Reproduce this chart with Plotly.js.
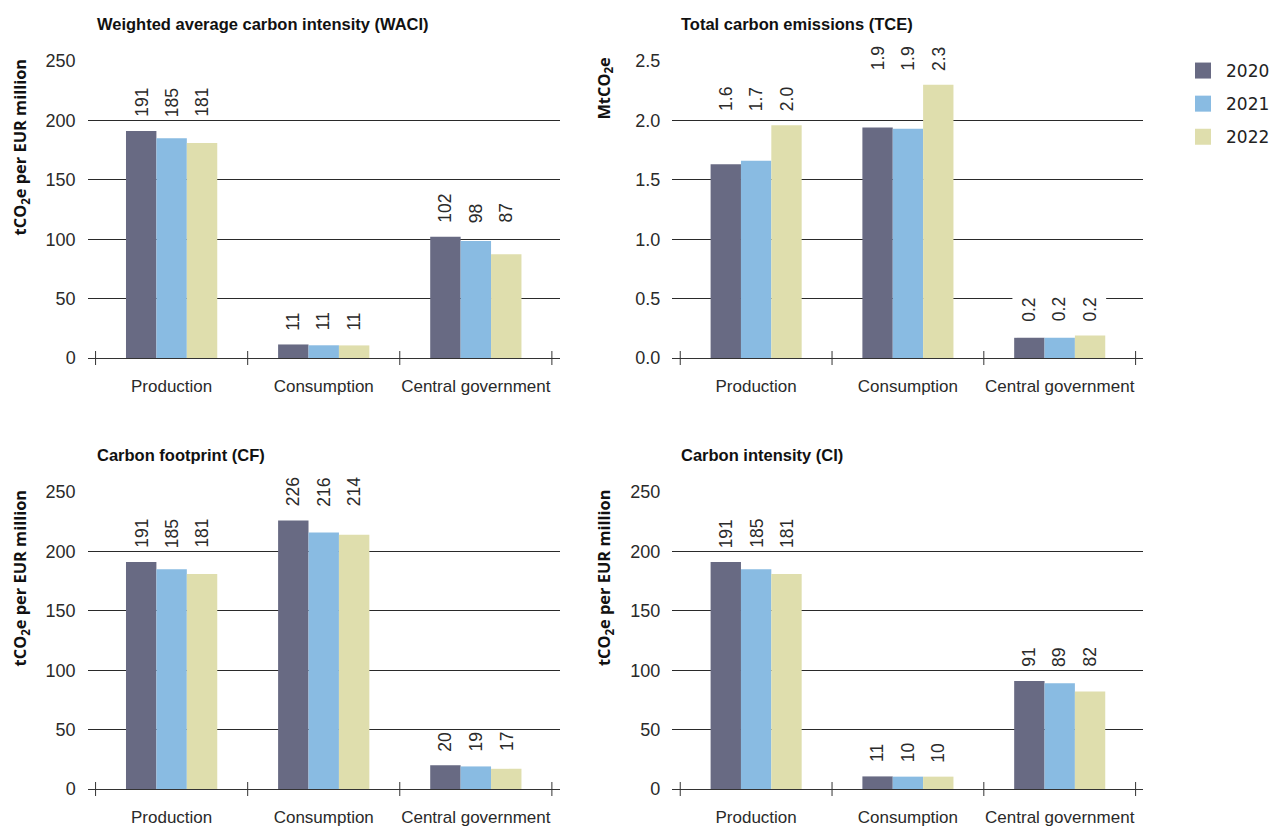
<!DOCTYPE html>
<html>
<head>
<meta charset="utf-8">
<script src="https://cdn.plot.ly/plotly-3.0.1.min.js"></script>
<style>
  html, body { margin: 0; padding: 0; background: #ffffff; }
  #chart { width: 1275px; height: 826px; }
</style>
</head>
<body>
<div id="chart"></div>
<script>
// ---------------- data ----------------
const categories = ['Production', 'Consumption', 'Central government'];
const years = ['2020', '2021', '2022'];

const waci2020 = [191, 11.4, 102];
const waci2021 = [185, 10.7, 98.4];
const waci2022 = [181, 10.6, 87.4];

const tce2020 = [1.63, 1.94, 0.17];
const tce2021 = [1.66, 1.93, 0.17];
const tce2022 = [1.96, 2.30, 0.19];

const cf2020 = [191, 226, 20];
const cf2021 = [185, 216, 19];
const cf2022 = [181, 214, 17];

const ci2020 = [191, 10.6, 91];
const ci2021 = [185, 10.4, 89];
const ci2022 = [181, 10.4, 82];

const intensityTicks = [0, 50, 100, 150, 200, 250];
const tceTicks = [0, 0.5, 1.0, 1.5, 2.0, 2.5];

const panelTitles = ['Weighted average carbon intensity (WACI)', 'Total carbon emissions (TCE)',
                     'Carbon footprint (CF)', 'Carbon intensity (CI)'];
const axisTitles = ['tCO<sub>2</sub>e per EUR million', 'MtCO<sub>2</sub>e',
                    'tCO<sub>2</sub>e per EUR million', 'tCO<sub>2</sub>e per EUR million'];

// ---------------- styles ----------------
const colors = ['#686a83', '#89bbe2', '#dfdead'];
const NARROW = '"Liberation Sans", Arial, sans-serif';
const BOLDSANS = '"Open Sans", "Noto Sans", sans-serif';
const W = 1275, H = 826;
const px = v => v / W;
const py = v => 1 - v / H;
const narrowFont = (size, extra) => Object.assign({family: NARROW, size: size, color: '#2a2a2a'}, extra || {});

const panels = [
  {series: [waci2020, waci2021, waci2022], ticks: intensityTicks, fmt: d => d.toFixed(0),  tickfmt: 'd',   col: 0, row: 0},
  {series: [tce2020, tce2021, tce2022],    ticks: tceTicks,       fmt: d => d.toFixed(1),  tickfmt: '.1f', col: 1, row: 0},
  {series: [cf2020, cf2021, cf2022],       ticks: intensityTicks, fmt: d => d.toFixed(0),  tickfmt: 'd',   col: 0, row: 1},
  {series: [ci2020, ci2021, ci2022],       ticks: intensityTicks, fmt: d => d.toFixed(0),  tickfmt: 'd',   col: 1, row: 1}
];

// pixel geometry of plot areas
const colX = [[88, 562], [675, 1148]];
const rowY = [[60, 358], [491, 789]];   // top px, bottom (zero line) px
const plotH = 297;                        // px for the full tick span

const traces = [];
const annotations = [];
const shapes = [];
const layout = {
  width: W, height: H,
  margin: {l: 0, r: 0, t: 0, b: 0},
  paper_bgcolor: '#ffffff', plot_bgcolor: 'rgba(0,0,0,0)',
  barmode: 'group', bargap: 0.4, bargroupgap: 0,
  showlegend: true,
  legend: {
    x: px(1185), xanchor: 'left', y: py(53), yanchor: 'top',
    font: {family: '"DejaVu Sans", sans-serif', size: 17, color: '#222'},
    itemwidth: 36, tracegroupgap: 8, bgcolor: 'rgba(0,0,0,0)',
    itemclick: false, itemdoubleclick: false
  },
  annotations: annotations,
  shapes: shapes,
  font: {family: NARROW, color: '#222'}
};

panels.forEach((p, k) => {
  const n = k + 1;
  const xa = 'x' + (n === 1 ? '' : n);
  const ya = 'y' + (n === 1 ? '' : n);
  const xKey = 'xaxis' + (n === 1 ? '' : n);
  const yKey = 'yaxis' + (n === 1 ? '' : n);
  const [x0, x1] = colX[p.col];
  const [yTop, yBot] = rowY[p.row];
  const tickMax = p.ticks[p.ticks.length - 1];
  const rangeMax = tickMax * (yBot - yTop) / plotH;

  layout[xKey] = {
    type: 'category', domain: [px(x0), px(x1)], anchor: ya,
    range: [-0.552, 2.552], categoryorder: 'array', categoryarray: categories,
    showgrid: false, zeroline: false, showline: true, linecolor: '#333', linewidth: 1,
    ticks: '', tickangle: 0, ticklabelstandoff: 13, automargin: false, fixedrange: true,
    tickfont: narrowFont(17)
  };
  layout[yKey] = {
    domain: [py(yBot), py(yTop)], anchor: xa,
    range: [0, rangeMax], tickmode: 'array', tickvals: p.ticks, tickformat: p.tickfmt,
    showgrid: true, gridcolor: '#2a2a2a', gridwidth: 1, zeroline: false, showline: false,
    ticks: '', ticklabelstandoff: 11, automargin: false, fixedrange: true,
    tickfont: narrowFont(18)
  };

  p.series.forEach((vals, j) => {
    traces.push({
      type: 'bar', x: categories, y: vals, name: years[j],
      xaxis: xa, yaxis: ya, marker: {color: colors[j], line: {width: 0}},
      showlegend: false, hoverinfo: 'x+y+name'
    });
  });

  // value labels: rotated, aligned above the highest bar of each group
  categories.forEach((c, i) => {
    const groupMax = Math.max(...p.series.map(s => s[i]));
    p.series.forEach((vals, j) => {
      annotations.push({
        xref: xa, yref: ya, x: i + (j - 1) * 0.2, y: groupMax,
        xanchor: 'center', yanchor: 'bottom', yshift: 12,
        text: p.fmt(vals[i]), textangle: -90, showarrow: false,
        height: 30, bgcolor: '#ffffff', borderpad: 1,
        font: narrowFont(17.5)
      });
    });
  });

  // category boundary tick marks crossing the axis line
  [-0.5, 0.5, 1.5, 2.5].forEach(b => {
    shapes.push({
      type: 'line', xref: xa, yref: ya + ' domain', x0: b, x1: b,
      y0: -7 / (yBot - yTop), y1: 7 / (yBot - yTop),
      line: {color: '#333', width: 1}
    });
  });

  // panel title
  annotations.push({
    xref: 'paper', yref: 'paper', x: px(colX[p.col][0] + 7), y: py(rowY[p.row][0] - 36),
    xanchor: 'left', yanchor: 'middle', showarrow: false,
    text: panelTitles[k], font: narrowFont(16.5, {color: '#111', weight: 'bold'})
  });
  // y axis title (top-aligned, rotated)
  annotations.push({
    xref: 'paper', yref: 'paper', x: px(p.col === 0 ? 20 : 606), y: py(rowY[p.row][0] - 4),
    xanchor: 'center', yanchor: 'top', showarrow: false, textangle: -90,
    text: axisTitles[k], font: {family: BOLDSANS, size: 16.4, color: '#111', weight: 'bold'}
  });
});

// legend entries (square swatches)
years.forEach((yr, j) => {
  traces.push({
    type: 'scatter', mode: 'markers', x: [null], y: [null], name: yr,
    xaxis: 'x2', yaxis: 'y2', legendgroup: yr, showlegend: true,
    marker: {symbol: 'square', size: 16, color: colors[j]}, hoverinfo: 'skip'
  });
});

Plotly.newPlot('chart', traces, layout, {displayModeBar: false, staticPlot: false});
</script>
</body>
</html>
